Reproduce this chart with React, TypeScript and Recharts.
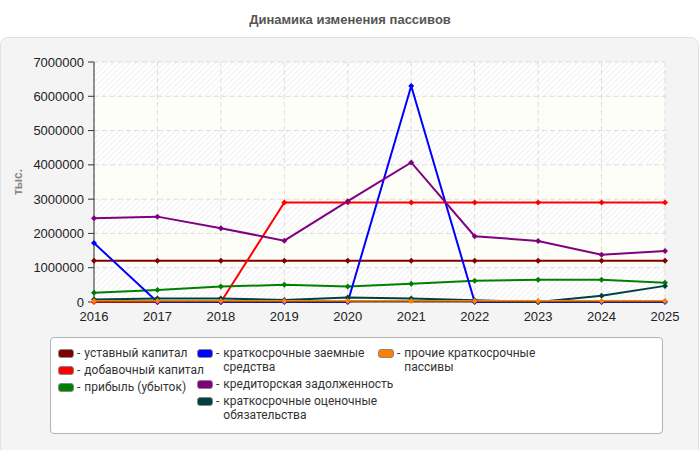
import React from "react";
import {
  LineChart,
  Line,
  XAxis,
  YAxis,
  CartesianGrid,
} from "recharts";

const years = ["2016", "2017", "2018", "2019", "2020", "2021", "2022", "2023", "2024", "2025"];

const ustavnyi = [1200000, 1200000, 1200000, 1200000, 1200000, 1200000, 1200000, 1200000, 1200000, 1200000];
const dobavochnyi = [0, 0, 0, 2900000, 2900000, 2900000, 2900000, 2900000, 2900000, 2900000];
const pribyl = [270000, 350000, 450000, 500000, 450000, 530000, 620000, 650000, 650000, 560000];
const zaemnye = [1720000, 0, 0, 0, 0, 6300000, 0, 0, 0, 0];
const kreditorskaya = [2440000, 2490000, 2150000, 1790000, 2940000, 4070000, 1920000, 1780000, 1380000, 1490000];
const ocenochnye = [70000, 100000, 100000, 60000, 130000, 100000, 50000, 0, 180000, 470000];
const prochie = [30000, 30000, 30000, 30000, 30000, 30000, 30000, 30000, 30000, 30000];

const yTicks = [0, 1000000, 2000000, 3000000, 4000000, 5000000, 6000000, 7000000];

// legend labels keep the line breaks of the original legend
const series = [
  { key: "ustavnyi", name: "уставный капитал", color: "#800000", values: ustavnyi },
  { key: "dobavochnyi", name: "добавочный капитал", color: "#ff0000", values: dobavochnyi },
  { key: "pribyl", name: "прибыль (убыток)", color: "#008000", values: pribyl },
  { key: "zaemnye", name: "краткосрочные заемные\nсредства", color: "#0000ff", values: zaemnye },
  { key: "kreditorskaya", name: "кредиторская задолженность", color: "#800080", values: kreditorskaya },
  { key: "ocenochnye", name: "краткосрочные оценочные\nобязательства", color: "#004040", values: ocenochnye },
  { key: "prochie", name: "прочие краткосрочные\nпассивы", color: "#ff8000", values: prochie },
];

const data = years.map((year, i) => {
  const row: Record<string, number | string> = { year };
  series.forEach((s) => {
    row[s.key] = s.values[i];
  });
  return row;
});

const legendColumns = [
  { left: 58, items: series.slice(0, 3) },
  { left: 197, items: series.slice(3, 6) },
  { left: 378, items: series.slice(6) },
];

const font = "Arial, 'Liberation Sans', sans-serif";
const legendFont = "Roboto, 'Liberation Sans', sans-serif";

const Diamond = (props: any) => {
  const { cx, cy, stroke } = props;
  if (cx == null || cy == null) return null;
  return (
    <path
      d={`M${cx},${cy - 3}L${cx + 3},${cy}L${cx},${cy + 3}L${cx - 3},${cy}Z`}
      fill={stroke}
      stroke="none"
    />
  );
};

const App = () => {
  return (
    <div
      style={{
        position: "fixed",
        left: 0,
        top: 0,
        width: 700,
        height: 450,
        background: "#fff",
        fontFamily: font,
      }}
    >
      <svg width={0} height={0} style={{ position: "absolute" }}>
        <defs>
          <pattern id="hatch" width="4" height="4" patternUnits="userSpaceOnUse" patternTransform="rotate(45)">
            <rect width="4" height="4" fill="#ffffff" />
            <line x1="0" y1="0" x2="0" y2="4" stroke="#ececec" strokeWidth="1.5" />
          </pattern>
        </defs>
      </svg>
      <div
        style={{
          position: "absolute",
          top: 12,
          left: 0,
          width: 700,
          textAlign: "center",
          fontWeight: "bold",
          fontSize: 13,
          color: "#555",
        }}
      >
        Динамика изменения пассивов
      </div>
      <div
        style={{
          position: "absolute",
          left: 0,
          top: 37,
          width: 697,
          height: 420,
          background: "#f4f4f4",
          border: "1px solid #e2e2e2",
          borderRadius: 8,
        }}
      />
      <div style={{ position: "absolute", left: 0, top: 0 }}>
        <LineChart
          width={700}
          height={450}
          data={data}
          margin={{ top: 62, right: 35, left: 20, bottom: 118 }}
        >
          <CartesianGrid
            stroke="#dcdcdc"
            strokeDasharray="5 3"
            horizontalFill={["url(#hatch)", "#fdfef7"]}
            fillOpacity={1}
          />
          <XAxis
            dataKey="year"
            tickLine={false}
            tickSize={0}
            tickMargin={10}
            axisLine={{ stroke: "#333" }}
            tick={{ fill: "#222", fontSize: 13, fontFamily: font }}
            interval={0}
          />
          <YAxis
            width={74}
            domain={[0, 7000000]}
            ticks={yTicks}
            interval={0}
            tickSize={6}
            tickMargin={4}
            axisLine={{ stroke: "#333" }}
            tickLine={{ stroke: "#333" }}
            tick={{ fill: "#222", fontSize: 13, fontFamily: font }}
            label={{
              content: () => (
                <text
                  x={22}
                  y={182}
                  transform="rotate(-90 22 182)"
                  textAnchor="middle"
                  fill="#888"
                  fontWeight="bold"
                  fontSize={12}
                  fontFamily={font}
                >
                  тыс.
                </text>
              ),
            }}
          />
          {series.map((s) => (
            <Line
              key={s.key}
              type="linear"
              dataKey={s.key}
              name={s.name}
              stroke={s.color}
              strokeWidth={2}
              dot={<Diamond />}
              activeDot={false}
              isAnimationActive={false}
            />
          ))}
        </LineChart>
      </div>
      <div
        style={{
          position: "absolute",
          left: 50,
          top: 337,
          width: 611,
          height: 95,
          background: "#fff",
          border: "1px solid #b4b4b4",
          borderRadius: 4,
          fontFamily: legendFont,
        }}
      >
        {legendColumns.map((col, ci) => (
          <div
            key={ci}
            style={{ position: "absolute", left: col.left - 51, top: 8 }}
          >
            {col.items.map((s) => (
              <div
                key={s.key}
                style={{ display: "flex", alignItems: "flex-start", marginBottom: 3 }}
              >
                <div
                  style={{
                    width: 14,
                    height: 7,
                    marginTop: 3,
                    background: s.color,
                    border: "1px solid #888",
                    borderRadius: 3,
                    flex: "none",
                  }}
                />
                <div
                  style={{ marginLeft: 3, fontSize: 12, lineHeight: "14px", color: "#333" }}
                >
                  -
                </div>
                <div
                  style={{
                    marginLeft: 4,
                    fontSize: 12,
                    lineHeight: "14px",
                    color: "#333",
                    whiteSpace: "pre",
                  }}
                >
                  {s.name}
                </div>
              </div>
            ))}
          </div>
        ))}
      </div>
    </div>
  );
};

export default App;
